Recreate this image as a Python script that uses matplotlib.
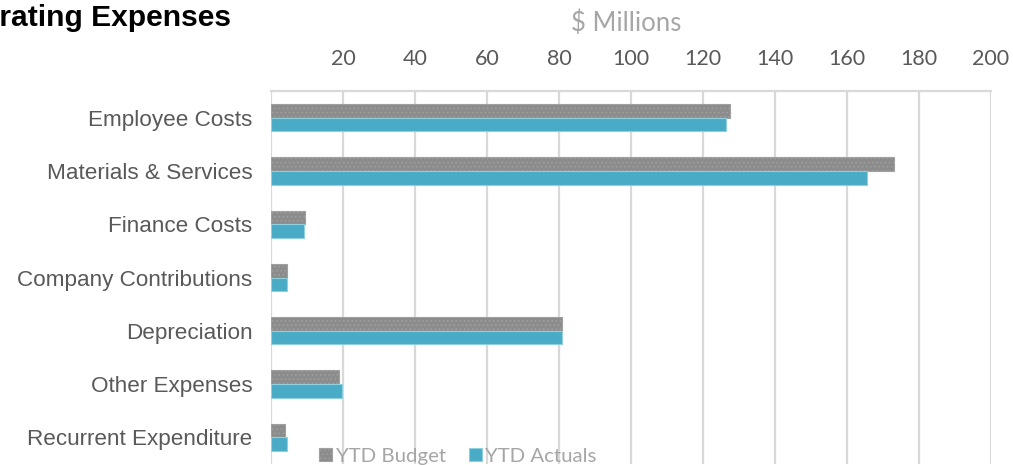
import matplotlib
matplotlib.use("Agg")
import matplotlib.pyplot as plt
import numpy as np

categories = ["Employee Costs", "Materials & Services", "Finance Costs",
              "Company Contributions", "Depreciation", "Other Expenses",
              "Recurrent Expenditure"]
ytd_budget = [127.5, 173.0, 9.5, 4.5, 80.8, 19.0, 3.9]
ytd_actuals = [126.3, 165.6, 9.2, 4.5, 80.8, 19.7, 4.5]
tick_values = [20, 40, 60, 80, 100, 120, 140, 160, 180, 200]

plt.rcParams["hatch.linewidth"] = 0.6

W, H = 1013, 465
fig = plt.figure(figsize=(W / 100, H / 100), dpi=100)
ax = fig.add_axes([271 / W, 1 - 464 / H, (991 - 271) / W, (464 - 91) / H])

y = np.arange(len(categories))
bh = 0.255
budget_color = "#8c8c8c"
actual_color = "#4aabc6"

ax.barh(y - bh / 2, ytd_budget, height=bh, color=budget_color,
        edgecolor="#a0a0a0", hatch="....", linewidth=0.8,
        label="YTD Budget", zorder=3)
ax.barh(y + bh / 2, ytd_actuals, height=bh, color=actual_color,
        edgecolor="#8fd0e0", linewidth=0.8, label="YTD Actuals", zorder=3)

ax.set_xlim(0, 200)
ax.set_ylim(len(categories) - 0.5, -0.5)

ax.xaxis.tick_top()
ax.set_xticks([0] + tick_values)
ax.set_xticklabels([""] + [str(v) for v in tick_values],
                   fontfamily="Lato", fontsize=15.5, color="#595959")
ax.tick_params(axis="x", length=0, pad=16)
ax.set_yticks(y)
ax.set_yticklabels(categories, fontfamily="Liberation Sans", fontsize=16.2,
                   color="#595959")
ax.tick_params(axis="y", length=0, pad=13.5)

ax.grid(axis="x", color="#d9d9d9", linewidth=1.6, zorder=0)
for side in ["left", "right", "bottom"]:
    ax.spines[side].set_visible(False)
ax.spines["top"].set_color("#d9d9d9")
ax.spines["top"].set_linewidth(1.6)

fig.text(626 / W, 1 - 23 / H, "$ Millions", ha="center", va="center",
         fontfamily="Lato", fontsize=18.5, color="#a6a6a6")

# Title runs off the left edge of the canvas: shift it so that only
# "rating Expenses" lands inside, starting at the left border.
title_kw = dict(fontfamily="Liberation Sans", fontweight="bold",
                fontsize=21.6, color="#000000", va="center")
renderer = fig.canvas.get_renderer()
probe_full = fig.text(0, 0, "Operating Expenses", **title_kw)
probe_tail = fig.text(0, 0, "rating Expenses", **title_kw)
w_full = probe_full.get_window_extent(renderer).width
w_tail = probe_tail.get_window_extent(renderer).width
probe_full.remove()
probe_tail.remove()
fig.text(-(w_full - w_tail + 1) / W, 1 - 18 / H, "Operating Expenses",
         ha="left", **title_kw)

leg = fig.legend(loc="center", bbox_to_anchor=(458 / W, 1 - 456 / H),
                 ncol=2, frameon=False,
                 prop={"family": "Lato", "size": 14.7},
                 handlelength=0.65, handleheight=0.65, handletextpad=0.15,
                 columnspacing=1.15)
for t in leg.get_texts():
    t.set_color("#a6a6a6")

fig.savefig("out.png", dpi=100)
